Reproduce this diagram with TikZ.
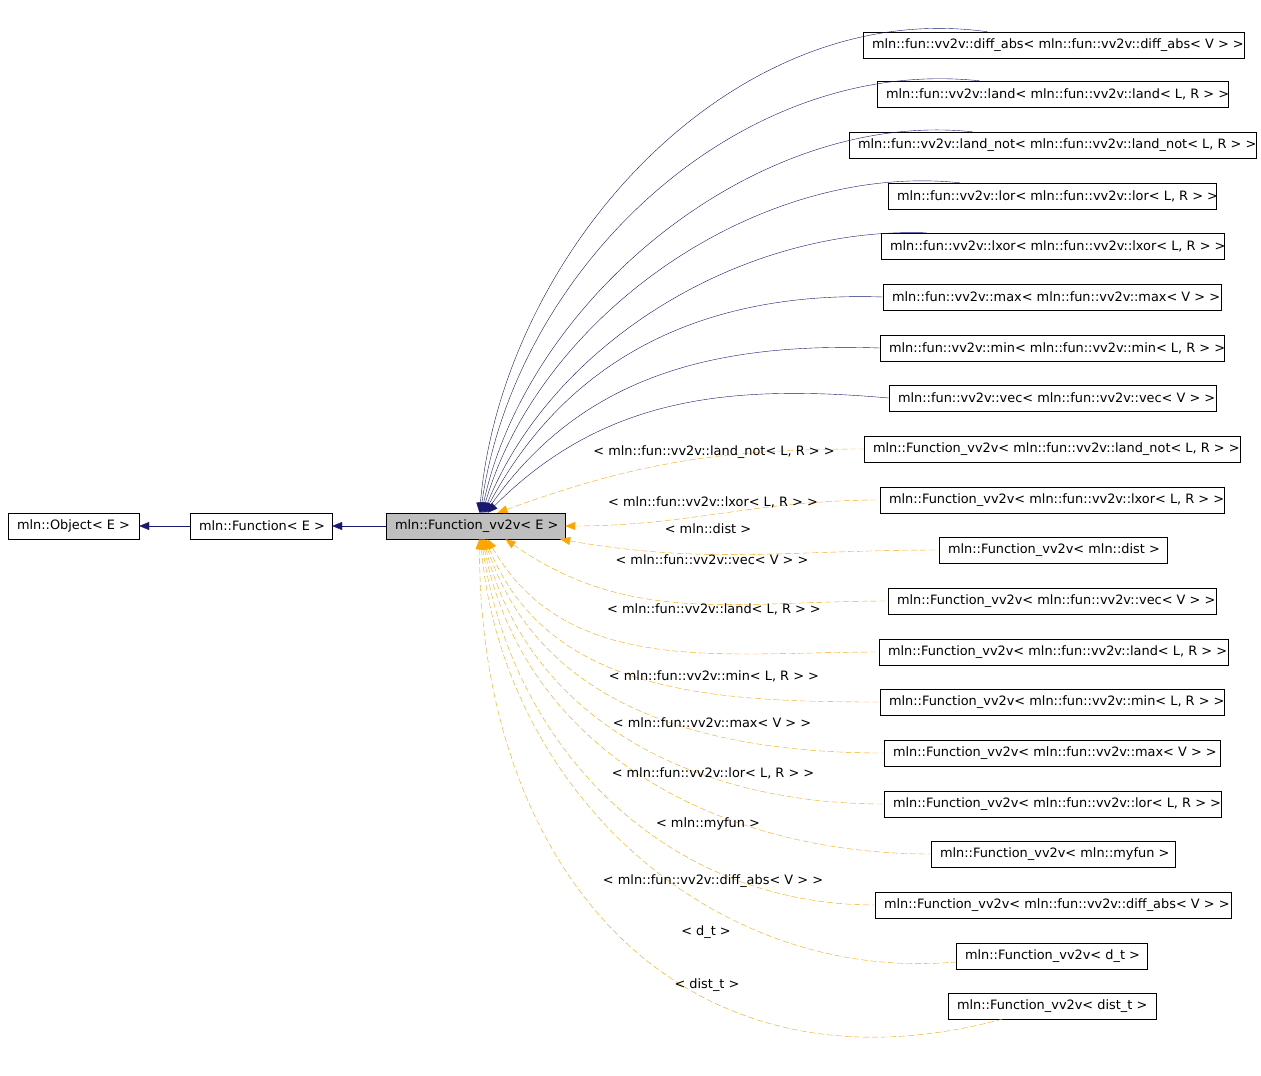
\documentclass[tikz,border=0pt]{standalone}
\usepackage{fontspec}
\setmainfont{DejaVu Sans}
\usetikzlibrary{arrows.meta}
\definecolor{inhblue}{RGB}{25,25,112}
\definecolor{tplorange}{RGB}{255,165,0}
\tikzset{
  cls/.style={draw,inner sep=0pt,minimum height=26pt},
  txt/.style={anchor=west,inner sep=0pt,font=\fontsize{12.9}{14}\selectfont},
  lbl/.style={inner sep=0pt,font=\fontsize{12.9}{14}\selectfont},
  inh/.style={inhblue,{Triangle[length=10pt,width=8pt]}-},
  tpl/.style={tplorange,dashed,dash pattern=on 6pt off 3pt,{Triangle[length=10pt,width=8pt]}-},
}
% box: name, left x, right x, centre y, text
\newcommand{\clsbox}[5]{%
  \node[cls,minimum width=#3pt-#2pt] (#1) at ({(#2+#3)/2},#4) {};
  \node[txt] at ($(#1.west)+(9pt,0)$) {#5};}
\usetikzlibrary{calc}
\begin{document}
\begin{tikzpicture}[x=1pt,y=-1pt]
        \useasboundingbox (0,0) rectangle (1261,1076);

        % base classes
        \clsbox{obj}{8}{139}{526}{mln::Object< E >}
        \clsbox{fun}{190}{332}{526}{mln::Function< E >}
        \node[cls,fill=black!25,minimum width=179pt] (vv) at (475.5,526) {};
        \node[txt] at ($(vv.west)+(9pt,0)$) {mln::Function\_vv2v< E >};
        \draw[inh] (obj.east) -- (fun.west);
        \draw[inh] (fun.east) -- (vv.west);

        % derived classes
        \clsbox{dabs}{863}{1244}{45}{mln::fun::vv2v::diff\_abs< mln::fun::vv2v::diff\_abs< V > >}
        \clsbox{land}{877}{1228}{94}{mln::fun::vv2v::land< mln::fun::vv2v::land< L, R > >}
        \clsbox{landn}{849}{1256}{145}{mln::fun::vv2v::land\_not< mln::fun::vv2v::land\_not< L, R > >}
        \clsbox{lor}{888}{1216}{196}{mln::fun::vv2v::lor< mln::fun::vv2v::lor< L, R > >}
        \clsbox{lxor}{881}{1224}{246}{mln::fun::vv2v::lxor< mln::fun::vv2v::lxor< L, R > >}
        \clsbox{max}{883}{1221}{297}{mln::fun::vv2v::max< mln::fun::vv2v::max< V > >}
        \clsbox{min}{880}{1224}{348}{mln::fun::vv2v::min< mln::fun::vv2v::min< L, R > >}
        \clsbox{vec}{889}{1216}{398}{mln::fun::vv2v::vec< mln::fun::vv2v::vec< V > >}

        \draw[inh] ($(vv.north)+(4,0)$) to[out=85,in=172,looseness=0.95] ($(dabs.north)+(-66,0)$);
        \draw[inh] ($(vv.north)+(5,0)$) to[out=82,in=174,looseness=0.95] ($(land.north)+(-73,0)$);
        \draw[inh] ($(vv.north)+(6,0)$) to[out=78,in=174,looseness=0.9] ($(landn.north)+(-80,0)$);
        \draw[inh] ($(vv.north)+(7,0)$) to[out=74,in=174,looseness=0.9] ($(lor.north)+(-92,0)$);
        \draw[inh] ($(vv.north)+(8,0)$) to[out=68,in=178,looseness=0.9] ($(lxor.north)+(-126,0)$);
        \draw[inh] ($(vv.north)+(9,0)$) to[out=62,in=178] (max.west);
        \draw[inh] ($(vv.north)+(10,0)$) to[out=55,in=178] (min.west);
        \draw[inh] ($(vv.north)+(12,0)$) to[out=45,in=175] (vec.west);

        % template instances
        \clsbox{fln}{864}{1240}{449}{mln::Function\_vv2v< mln::fun::vv2v::land\_not< L, R > >}
        \clsbox{flx}{880}{1224}{500}{mln::Function\_vv2v< mln::fun::vv2v::lxor< L, R > >}
        \clsbox{fdist}{939}{1167}{550}{mln::Function\_vv2v< mln::dist >}
        \clsbox{fvec}{888}{1216}{601}{mln::Function\_vv2v< mln::fun::vv2v::vec< V > >}
        \clsbox{fland}{879}{1228}{652}{mln::Function\_vv2v< mln::fun::vv2v::land< L, R > >}
        \clsbox{fmin}{880}{1224}{702}{mln::Function\_vv2v< mln::fun::vv2v::min< L, R > >}
        \clsbox{fmax}{884}{1220}{753}{mln::Function\_vv2v< mln::fun::vv2v::max< V > >}
        \clsbox{flor}{884}{1221}{804}{mln::Function\_vv2v< mln::fun::vv2v::lor< L, R > >}
        \clsbox{fmy}{931}{1175}{854}{mln::Function\_vv2v< mln::myfun >}
        \clsbox{fdabs}{875}{1231}{905}{mln::Function\_vv2v< mln::fun::vv2v::diff\_abs< V > >}
        \clsbox{fdt}{956}{1147}{956}{mln::Function\_vv2v< d\_t >}
        \clsbox{fdistt}{948}{1156}{1006}{mln::Function\_vv2v< dist\_t >}

        \draw[tpl] ($(vv.north)+(22,0)$) to[out=20,in=180] (fln.west);
        \draw[tpl] (vv.east) to[out=0,in=180] (flx.west);
        \draw[tpl] ($(vv.south east)+(-5,0)$) to[out=-10,in=180] (fdist.west);
        \draw[tpl] ($(vv.south)+(30,0)$) to[out=-35,in=180] (fvec.west);
        \draw[tpl] ($(vv.south)+(12,0)$) to[out=-60,in=180] (fland.west);
        \draw[tpl] ($(vv.south)+(10,0)$) to[out=-68,in=180] (fmin.west);
        \draw[tpl] ($(vv.south)+(9,0)$) to[out=-72,in=180] (fmax.west);
        \draw[tpl] ($(vv.south)+(8,0)$) to[out=-76,in=180] (flor.west);
        \draw[tpl] ($(vv.south)+(7,0)$) to[out=-79,in=180] (fmy.west);
        \draw[tpl] ($(vv.south)+(6,0)$) to[out=-82,in=180] (fdabs.west);
        \draw[tpl] ($(vv.south)+(5,0)$) to[out=-85,in=185] ($(fdt.west)+(0,6)$);
        \draw[tpl] ($(vv.south)+(4,0)$) to[out=-90,in=195,looseness=1.2] ($(fdistt.south)+(-50,0)$);

        \node[lbl] (l1) at (714,452) {< mln::fun::vv2v::land\_not< L, R > >};
        \node[lbl] (l2) at (713,502) {< mln::fun::vv2v::lxor< L, R > >};
        \node[lbl] (l3) at (708,529) {< mln::dist >};
        \node[lbl] (l4) at (712,560) {< mln::fun::vv2v::vec< V > >};
        \node[lbl] (l5) at (714,609) {< mln::fun::vv2v::land< L, R > >};
        \node[lbl] (l6) at (714,676) {< mln::fun::vv2v::min< L, R > >};
        \node[lbl] (l7) at (712,723) {< mln::fun::vv2v::max< V > >};
        \node[lbl] (l8) at (713,773) {< mln::fun::vv2v::lor< L, R > >};
        \node[lbl] (l9) at (708,824) {< mln::myfun >};
        \node[lbl] (l10) at (713,881) {< mln::fun::vv2v::diff\_abs< V > >};
        \node[lbl] (l11) at (706,932) {< d\_t >};
        \node[lbl] (l12) at (707,985) {< dist\_t >};
\end{tikzpicture}
\end{document}
